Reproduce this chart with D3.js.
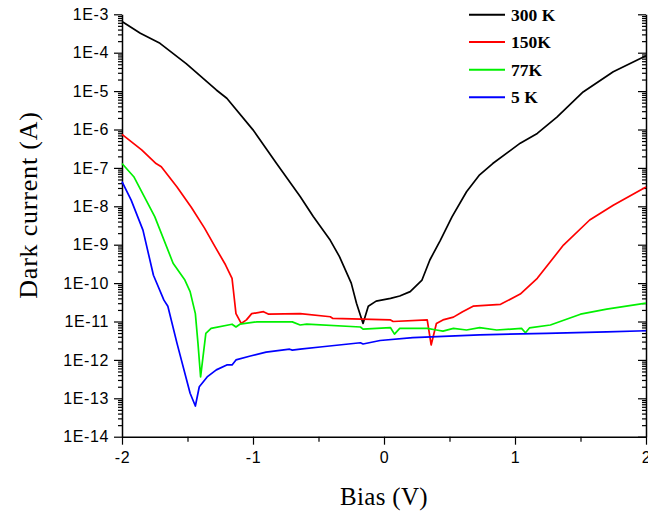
<!DOCTYPE html>
<html><head><meta charset="utf-8">
<script src="https://cdn.jsdelivr.net/npm/d3@7"></script>
<style>body{margin:0;background:#fff}svg{display:block}</style>
</head><body>
<svg id="chart" width="648" height="517"></svg>
<script>
const seriesNames = ["300 K", "150K", "77K", "5 K"];
const seriesColors = ["#000000", "#ff0000", "#00f000", "#0000ff"];
const xMajorTicks = [-2, -1, 0, 1, 2];
const xTickLabels = ["-2", "-1", "0", "1", "2"];
const xMinorTicks = [-1.5, -0.5, 0.5, 1.5];
const yMajorTicks = [1e-3, 1e-4, 1e-5, 1e-6, 1e-7, 1e-8, 1e-9, 1e-10, 1e-11, 1e-12, 1e-13, 1e-14];
const yTickLabels = ["1E-3", "1E-4", "1E-5", "1E-6", "1E-7", "1E-8", "1E-9", "1E-10", "1E-11", "1E-12", "1E-13", "1E-14"];
const xTitle = "Bias (V)";
const yTitle = "Dark current (A)";

// [bias (V), dark current (A)]
const data300K = [
  [-2.00, 6.5e-4], [-1.86, 3.2e-4], [-1.71, 1.75e-4], [-1.51, 5.2e-5], [-1.28, 1.07e-5],
  [-1.20, 6.5e-6], [-1.00, 9.8e-7], [-0.82, 1.3e-7], [-0.64, 1.8e-8], [-0.54, 5.4e-9],
  [-0.41, 1.3e-9], [-0.34, 4.9e-10], [-0.25, 1.0e-10], [-0.21, 3.0e-11], [-0.16, 8.9e-12],
  [-0.12, 2.5e-11], [-0.06, 3.4e-11], [0.05, 4.0e-11], [0.12, 4.6e-11], [0.20, 6.0e-11],
  [0.29, 1.2e-10], [0.35, 4.0e-10], [0.43, 1.3e-9], [0.52, 5.4e-9], [0.63, 2.4e-8],
  [0.73, 6.6e-8], [0.83, 1.3e-7], [1.04, 4.4e-7], [1.17, 7.9e-7], [1.32, 2.1e-6],
  [1.52, 9.5e-6], [1.75, 3.2e-5], [2.00, 8.3e-5]
];
const data150K = [
  [-2.00, 7.5e-7], [-1.85, 2.95e-7], [-1.74, 1.3e-7], [-1.70, 1.07e-7], [-1.58, 3.2e-8],
  [-1.47, 9.3e-9], [-1.37, 2.7e-9], [-1.29, 8.9e-10], [-1.21, 3.0e-10], [-1.16, 1.33e-10],
  [-1.15, 6.6e-11], [-1.13, 1.6e-11], [-1.09, 8.9e-12], [-1.05, 1.1e-11], [-1.01, 1.6e-11],
  [-0.92, 1.8e-11], [-0.88, 1.55e-11], [-0.64, 1.6e-11], [-0.41, 1.33e-11], [-0.39, 1.2e-11],
  [0.05, 1.1e-11], [0.07, 1.0e-11], [0.33, 1.1e-11], [0.36, 2.45e-12], [0.40, 8.9e-12],
  [0.45, 1.1e-11], [0.53, 1.3e-11], [0.60, 1.8e-11], [0.68, 2.5e-11], [0.89, 2.8e-11],
  [1.04, 5.2e-11], [1.17, 1.33e-10], [1.37, 9.8e-10], [1.57, 4.4e-9], [1.75, 1.07e-8],
  [2.00, 3.2e-8]
];
const data77K = [
  [-2.00, 1.3e-7], [-1.91, 5.9e-8], [-1.75, 5.4e-9], [-1.61, 3.3e-10], [-1.52, 1.2e-10],
  [-1.48, 6.0e-11], [-1.44, 1.6e-11], [-1.42, 2.7e-12], [-1.40, 3.6e-13], [-1.36, 4.9e-12],
  [-1.32, 6.6e-12], [-1.16, 8.5e-12], [-1.13, 7.2e-12], [-1.10, 8.5e-12], [-0.97, 9.8e-12],
  [-0.70, 9.8e-12], [-0.64, 8.1e-12], [-0.59, 8.5e-12], [-0.18, 7.2e-12], [-0.16, 6.3e-12],
  [0.05, 6.9e-12], [0.08, 4.7e-12], [0.12, 6.6e-12], [0.33, 6.6e-12], [0.40, 6.0e-12],
  [0.45, 5.6e-12], [0.53, 6.6e-12], [0.63, 6.0e-12], [0.73, 6.9e-12], [0.86, 6.0e-12],
  [1.05, 6.6e-12], [1.08, 5.1e-12], [1.11, 6.8e-12], [1.27, 8.1e-12], [1.50, 1.55e-11],
  [1.70, 2.1e-11], [2.00, 3.0e-11]
];
const data5K = [
  [-2.00, 4.4e-8], [-1.93, 1.45e-8], [-1.84, 2.4e-9], [-1.76, 1.6e-10], [-1.68, 3.6e-11],
  [-1.65, 2.5e-11], [-1.58, 2.7e-12], [-1.48, 1.35e-13], [-1.44, 6.3e-14], [-1.41, 2.0e-13],
  [-1.35, 3.6e-13], [-1.28, 5.5e-13], [-1.20, 7.4e-13], [-1.16, 7.4e-13], [-1.13, 1.0e-12],
  [-1.02, 1.26e-12], [-0.90, 1.6e-12], [-0.72, 1.9e-12], [-0.70, 1.8e-12], [-0.64, 1.9e-12],
  [-0.47, 2.2e-12], [-0.18, 2.8e-12], [-0.16, 2.6e-12], [-0.03, 3.2e-12], [0.22, 3.8e-12],
  [0.73, 4.5e-12], [1.24, 4.9e-12], [1.70, 5.4e-12], [2.00, 5.75e-12]
];
const allSeries = [data300K, data150K, data77K, data5K];

const svg = d3.select("#chart");
const mLeft = 122, mRight = 646, mTop = 14.3, mBottom = 436.7;
const x = d3.scaleLinear().domain([-2, 2]).range([mLeft, mRight]);
const y = d3.scaleLog().domain([1e-14, 1e-3]).range([mBottom, mTop]);

const yMinor = [];
for (let e = -14; e < -3; e++) for (let m = 2; m <= 9; m++) yMinor.push(m * Math.pow(10, e));

const tickFont = "'Liberation Sans', Arial, sans-serif";

// left axis
const gl = svg.append("g").attr("transform", `translate(${mLeft},0)`);
gl.call(d3.axisLeft(y).tickValues(yMajorTicks).tickFormat((d, i) => yTickLabels[i]).tickSize(8).tickSizeOuter(0).tickPadding(5));
const glm = svg.append("g").attr("transform", `translate(${mLeft},0)`);
glm.call(d3.axisLeft(y).tickValues(yMinor).tickFormat("").tickSize(4).tickSizeOuter(0));
glm.select(".domain").remove();

// right axis (ticks pointing inward)
const gr = svg.append("g").attr("transform", `translate(${mRight},0)`);
gr.call(d3.axisLeft(y).tickValues(yMajorTicks).tickFormat("").tickSize(8).tickSizeOuter(0));
const grm = svg.append("g").attr("transform", `translate(${mRight},0)`);
grm.call(d3.axisLeft(y).tickValues(yMinor).tickFormat("").tickSize(4).tickSizeOuter(0));
grm.select(".domain").remove();

// bottom axis
const gb = svg.append("g").attr("transform", `translate(0,${mBottom})`);
gb.call(d3.axisBottom(x).tickValues(xMajorTicks).tickFormat((d, i) => xTickLabels[i]).tickSize(8).tickSizeOuter(0).tickPadding(7));
const gbm = svg.append("g").attr("transform", `translate(0,${mBottom})`);
gbm.call(d3.axisBottom(x).tickValues(xMinorTicks).tickFormat("").tickSize(5).tickSizeOuter(0));
gbm.select(".domain").remove();

svg.selectAll(".domain").attr("stroke", "#000").attr("stroke-width", 1.5);
svg.selectAll(".tick line").attr("stroke", "#000").attr("stroke-width", 1.2);
svg.selectAll(".tick text").attr("font-family", tickFont).attr("font-size", 16)
  .attr("letter-spacing", "0.6px").attr("fill", "#000");

// data lines
const line = d3.line().x(d => x(d[0])).y(d => y(d[1]));
allSeries.forEach((s, i) => {
  svg.append("path").datum(s).attr("d", line)
    .attr("fill", "none").attr("stroke", seriesColors[i]).attr("stroke-width", 1.7)
    .attr("stroke-linejoin", "round");
});

// titles
const titleFont = "'Liberation Serif', 'Times New Roman', serif";
svg.append("text").attr("x", 384).attr("y", 505).attr("text-anchor", "middle")
  .attr("font-family", titleFont).attr("font-size", 25).attr("letter-spacing", "0.3px").text(xTitle);
svg.append("text").attr("transform", "translate(37,205) rotate(-90)").attr("text-anchor", "middle")
  .attr("font-family", titleFont).attr("font-size", 26).attr("letter-spacing", "0.8px").text(yTitle);

// legend
const legendY = [14.7, 42, 69.7, 97.3];
seriesNames.forEach((n, i) => {
  svg.append("line").attr("x1", 469).attr("x2", 505).attr("y1", legendY[i]).attr("y2", legendY[i])
    .attr("stroke", seriesColors[i]).attr("stroke-width", 2);
  svg.append("text").attr("x", 511).attr("y", legendY[i]).attr("dy", "0.35em")
    .attr("font-family", titleFont).attr("font-weight", "bold").attr("font-size", 17.5).text(n);
});
</script>
</body></html>
